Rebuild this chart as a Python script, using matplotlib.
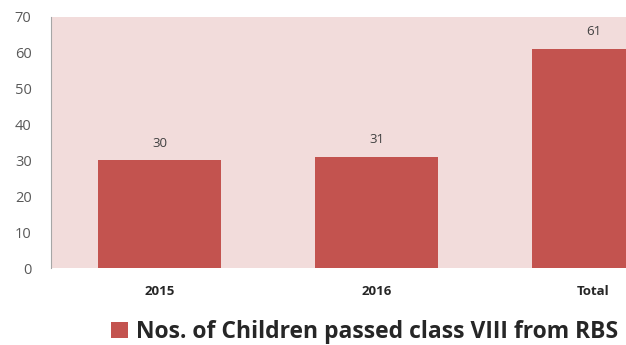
import matplotlib.pyplot as plt
from matplotlib.patches import Patch

categories = ["2015", "2016", "Total"]
values = [30, 31, 61]
series_name = "Nos. of Children passed class VIII from RBS"

plt.rcParams["font.family"] = ["Open Sans", "DejaVu Sans"]

fig = plt.figure(figsize=(6.26, 3.45), dpi=100)
ax = fig.add_axes([0.0815, 0.223, 0.9185, 0.728])
ax.set_facecolor("#F2DCDB")

bar_color = "#C3534F"
x = range(len(categories))
bars = ax.bar(x, values, width=0.57, color=bar_color)
for b, v in zip(bars, values):
    ax.text(b.get_x() + b.get_width() / 2, v + 3, str(v),
            ha="center", va="bottom", fontsize=9.5, color="#404040")

ax.set_xlim(-0.5, 2.15)
ax.set_ylim(0, 70)
ax.set_yticks(range(0, 71, 10))
ax.set_xticks(list(x))
ax.set_xticklabels(categories, fontweight="bold", fontsize=9.5, color="#262626")
ax.tick_params(axis="y", labelsize=10.5, colors="#595959", length=0, pad=14)
ax.tick_params(axis="x", length=0, pad=12)

for s in ["top", "right", "bottom"]:
    ax.spines[s].set_visible(False)
ax.spines["left"].set_color("#A6A6A6")
ax.spines["left"].set_linewidth(0.8)

handle = Patch(facecolor=bar_color, edgecolor="none")
fig.legend([handle], [series_name], loc="center", bbox_to_anchor=(0.583, 0.038),
           frameon=False, handlelength=0.75, handleheight=0.75, handletextpad=0.35,
           prop={"weight": "bold", "size": 16.5}, labelcolor="#262626")

fig.savefig("out.png", dpi=100)
